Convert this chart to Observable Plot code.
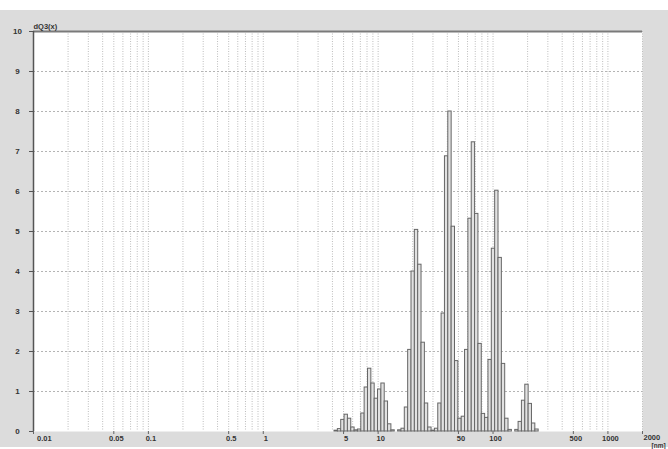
<!DOCTYPE html>
<html><head><meta charset="utf-8">
<script src="https://cdn.jsdelivr.net/npm/d3@7"></script>
<script src="https://cdn.jsdelivr.net/npm/@observablehq/plot@0.6"></script>
<style>
html,body{margin:0;padding:0;background:#fff;overflow:hidden;}
#chart svg{display:block;}
</style></head><body><div id="chart"></div>
<script>
// Particle size classes (bin centres, nm) and dQ3(x) values
const binCenters = [4.313,4.612,4.932,5.275,5.640,6.032,6.450,6.898,7.376,7.888,
  8.436,9.020,9.645,10.31,11.03,11.79,12.61,13.49,14.42,15.43,
  16.50,17.64,18.87,20.18,21.58,23.07,24.67,26.38,28.21,30.17,
  32.26,34.50,36.89,39.45,42.19,45.11,48.25,51.60,55.18,59.00,
  63.10,67.47,72.15,77.16,82.52,88.24,94.35,100.9,107.9,115.4,
  123.4,131.9,141.1,150.9,161.4,172.6,184.5,197.4,211.0,225.7,241.3];
const dQ3 = [0.02,0.06,0.29,0.42,0.32,0.10,0.03,0.05,0.45,1.10,
  1.57,1.20,0.82,1.05,1.20,0.75,0.18,0.03,0,0.03,
  0.07,0.60,2.04,4.00,5.04,4.17,2.22,0.70,0.10,0.02,
  0.07,0.70,2.95,6.88,8.00,5.12,1.76,0.32,0.37,2.04,
  5.32,7.23,5.44,2.19,0.44,0.34,1.79,4.57,6.02,4.34,
  1.69,0.32,0.04,0,0.04,0.24,0.77,1.17,0.69,0.20,0.05];
const binRatio = 1.0694; // ratio between neighbouring size classes

const xTickValues = [0.01,0.05,0.1,0.5,1,5,10,50,100,500,1000,2000];
const xTickLabels = ["0.01","0.05","0.1","0.5","1","5","10","50","100","500","1000","2000"];
const xGridValues = [0.01,0.02,0.03,0.04,0.05,0.06,0.07,0.08,0.09,
  0.1,0.2,0.3,0.4,0.5,0.6,0.7,0.8,0.9,
  1,2,3,4,5,6,7,8,9,
  10,20,30,40,50,60,70,80,90,
  100,200,300,400,500,600,700,800,900,
  1000,2000];
const yTickValues = [0,1,2,3,4,5,6,7,8,9,10];
const yLabel = "dQ3(x)";
const xUnit = "[nm]";

const bars = binCenters.map((c, i) => ({
  x1: c / Math.sqrt(binRatio), x2: c * Math.sqrt(binRatio), v: dQ3[i]
})).filter(d => d.v > 0);

const font = "'Liberation Sans', Arial, sans-serif";
const labelIdx = xTickValues.map((d, i) => i);
const midIdx = labelIdx.filter(i => i > 0 && i < xTickValues.length - 1);

const chart = Plot.plot({
  width: 668, height: 449,
  marginLeft: 33, marginRight: 26, marginTop: 31, marginBottom: 18,
  x: {type: "log", domain: [0.01, 2000]},
  y: {domain: [0, 10]},
  style: {
    background: "linear-gradient(to bottom,#fff 0,#fff 10px,#dcdcdc 10px,#dcdcdc 447px,#fff 447px)",
    fontFamily: font, overflow: "visible"
  },
  marks: [
    Plot.frame({fill: "white", stroke: "none"}),
    Plot.ruleX(xGridValues, {stroke: "#bdbdbd", strokeDasharray: "1,1.5", strokeWidth: 1}),
    Plot.ruleY(yTickValues.filter(v => v > 0 && v < 10), {stroke: "#b4b4b4", strokeDasharray: "2,2", strokeWidth: 1}),
    Plot.rect(bars, {x1: "x1", x2: "x2", y1: 0, y2: "v", fill: "#e2e2e2", stroke: "#666", strokeWidth: 1}),
    Plot.ruleY([10], {stroke: "#7a7a7a", strokeWidth: 2}),
    Plot.ruleX([0.01], {stroke: "#555", strokeWidth: 1.5}),
    Plot.axisY(yTickValues, {tickSize: 4, tickPadding: 12, textAnchor: "middle", fontSize: 8, fontWeight: "bold", fill: "#333", stroke: "#555", label: null}),
    Plot.axisX(xTickValues, {tickSize: 3, tickFormat: () => "", stroke: "#666", label: null}),
    Plot.text(midIdx, {x: i => xTickValues[i], text: i => xTickLabels[i], frameAnchor: "bottom", dy: 9, dx: 2.5, fontSize: 7.5, fontWeight: "bold", fill: "#333"}),
    Plot.text([0], {x: i => xTickValues[i], text: i => xTickLabels[i], frameAnchor: "bottom", dy: 9, dx: 3.5, textAnchor: "start", fontSize: 7.5, fontWeight: "bold", fill: "#333"}),
    Plot.text([xTickValues.length - 1], {x: i => xTickValues[i], text: i => xTickLabels[i], frameAnchor: "bottom", dy: 8, dx: 1, textAnchor: "start", fontSize: 7.5, fontWeight: "bold", fill: "#333"}),
    Plot.text([xUnit], {x: () => 2000, text: d => d, frameAnchor: "bottom", dy: 16.5, dx: 9, textAnchor: "start", fontSize: 6.5, fontWeight: "bold", fill: "#333"}),
    Plot.text([yLabel], {text: d => d, frameAnchor: "top-left", dy: -8, dx: 0, textAnchor: "start", fontSize: 7.5, fontWeight: "bold", fill: "#333"})
  ]
});
document.getElementById("chart").appendChild(chart);
</script></body></html>
